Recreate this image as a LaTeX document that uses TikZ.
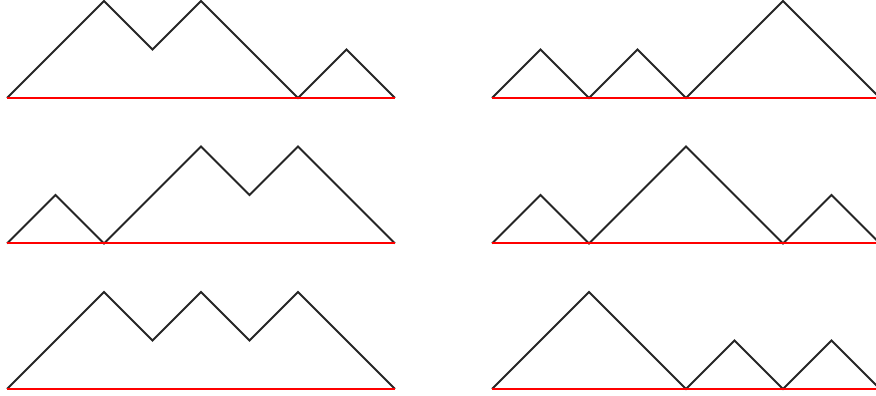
\documentclass[tikz,border=0pt]{standalone}
\begin{document}
\begin{tikzpicture}[x=1cm,y=1cm,
  pathline/.style={black!85,line width=1.1pt,line join=miter},
  redbase/.style={red,line width=1.2pt}]
\useasboundingbox (-0.144,-6.144) rectangle (17.918,2.02);
\newcommand{\dyck}[3]{% #1 x offset, #2 y offset, #3 steps
  \draw[pathline] (#1,#2)
    \foreach \h [count=\i] in {#3} { -- ++(1,\h) };
  \draw[redbase] (#1,#2) -- ++(8,0);
}
\dyck{0}{0}{1,1,-1,1,-1,-1,1,-1}
\dyck{10}{0}{1,-1,1,-1,1,1,-1,-1}
\dyck{0}{-3}{1,-1,1,1,-1,1,-1,-1}
\dyck{10}{-3}{1,-1,1,1,-1,-1,1,-1}
\dyck{0}{-6}{1,1,-1,1,-1,1,-1,-1}
\dyck{10}{-6}{1,1,-1,-1,1,-1,1,-1}
\end{tikzpicture}
\end{document}
